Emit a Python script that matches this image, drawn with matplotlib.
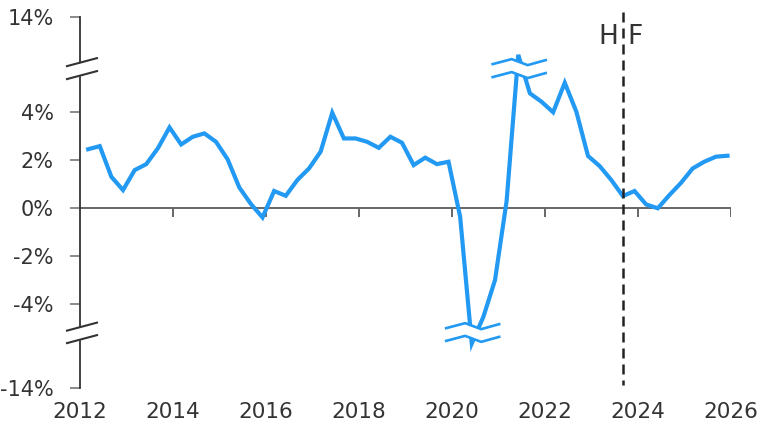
import numpy as np
import matplotlib.pyplot as plt

# quarterly YoY growth, %; 2020Q2 / 2021Q2 sit in the compressed part of the axis
quarters = [f"{y}Q{q}" for y in range(2012, 2026) for q in range(1, 5)]
growth = [2.45, 2.58, 1.30, 0.75,
          1.58, 1.83, 2.49, 3.36,
          2.65, 2.97, 3.11, 2.76,
          2.03, 0.86, 0.17, -0.39,
          0.71, 0.51, 1.17, 1.65,
          2.35, 3.97, 2.90, 2.90,
          2.76, 2.51, 2.97, 2.72,
          1.79, 2.10, 1.83, 1.93,
          -0.36, -6.9, -4.53, -3.00,
          0.30, 8.0, 4.78, 4.43,
          3.99, 5.22, 4.01, 2.17,
          1.75, 1.17, 0.50, 0.71,
          0.15, -0.01, 0.54, 1.05,
          1.65, 1.93, 2.14, 2.18]
split_quarter = "2023Q3"          # history | forecast
ytick_vals = [-14, -4, -2, 0, 2, 4, 14]
xtick_years = list(range(2012, 2027, 2))

BLUE = '#2299f2'
DARK = '#333333'

# broken y axis: linear in the middle, squeezed beyond the breaks
BRK_HI, BRK_LO = 5.81, -5.2
K_HI, K_LO = 0.2625, 0.261


def squash(v):
    v = np.asarray(v, float)
    return np.where(v > BRK_HI, BRK_HI + (v - BRK_HI) * K_HI,
                    np.where(v < BRK_LO, BRK_LO + (v - BRK_LO) * K_LO, v))


def qpos(label):
    return int(label[:4]) + (int(label[-1]) - 0.3) / 4


x = np.array([qpos(q) for q in quarters])
u = squash(growth)

fig = plt.figure(figsize=(7.64, 4.25), dpi=100)
ax = fig.add_axes([80 / 764, 1 - 388 / 425, 651 / 764, 371 / 425])

ax.plot(x, u, color=BLUE, lw=3, solid_joinstyle='miter', zorder=2)

# line breaks at the extreme quarters
px_x = 46.5   # pixels per year
px_y = 24.0   # pixels per u unit
wdx = np.array([-25.6, -6.6, 9.4, 27.4]) / px_x
wdy = np.array([-2.0, 3.0, -3.0, 2.0]) / px_y
for idx, (c_up, c_dn) in [(int(np.argmax(growth)), (6.08, 5.54)),
                          (int(np.argmin(growth)), (-4.92, -5.45))]:
    xw = x[idx] + wdx
    ax.fill_between(xw, c_dn + wdy, c_up + wdy, color='white', lw=0, zorder=3)
    ax.plot(xw, c_up + wdy, color=BLUE, lw=1.9, zorder=4)
    ax.plot(xw, c_dn + wdy, color=BLUE, lw=1.9, zorder=4)

# axis break marks on the y spine
mdx = np.array([-13, 17]) / px_x
mdy = np.array([-4, 4]) / px_y
for c_up, c_dn in [(6.08, 5.54), (-4.94, -5.46)]:
    xm = 2012 + mdx
    ax.fill_between(xm, c_dn + mdy, c_up + mdy, color='white', lw=0,
                    zorder=5, clip_on=False)
    ax.plot(xm, c_up + mdy, color=DARK, lw=1.5, zorder=6, clip_on=False)
    ax.plot(xm, c_dn + mdy, color=DARK, lw=1.5, zorder=6, clip_on=False)

# zero line with small ticks hanging below
ax.axhline(0, color='#666666', lw=1.4, zorder=1)
ax.vlines(xtick_years[1:], -9 / px_y, 0, color='#666666', lw=1.4, zorder=1)

# history / forecast divider
xs = qpos(split_quarter)
ax.plot([xs, xs], [8.17, -7.375], color='#222222', lw=1.8,
        dashes=(4, 2.4), clip_on=False, zorder=4)
ax.text(xs - 0.11, 6.85, 'H', ha='right', va='baseline', fontsize=19, color=DARK)
ax.text(xs + 0.09, 6.85, 'F', ha='left', va='baseline', fontsize=19, color=DARK)

ax.set_xlim(2012, 2026)
ax.set_ylim(float(squash(-14)), float(squash(14)))

ax.set_yticks(squash(ytick_vals))
ax.set_yticklabels([f'{v}%' for v in ytick_vals])
ax.set_xticks(xtick_years)
ax.set_xticklabels([str(y) for y in xtick_years])

for s in ['top', 'right', 'bottom']:
    ax.spines[s].set_visible(False)
ax.spines['left'].set_color(DARK)
ax.spines['left'].set_linewidth(1.3)

ax.tick_params(axis='y', length=7, width=1.2, color='#777777',
               labelsize=15, labelcolor=DARK, pad=12)
ax.tick_params(axis='x', length=0, labelsize=15.5, labelcolor=DARK, pad=10)

fig.savefig('out.png', dpi=100)
